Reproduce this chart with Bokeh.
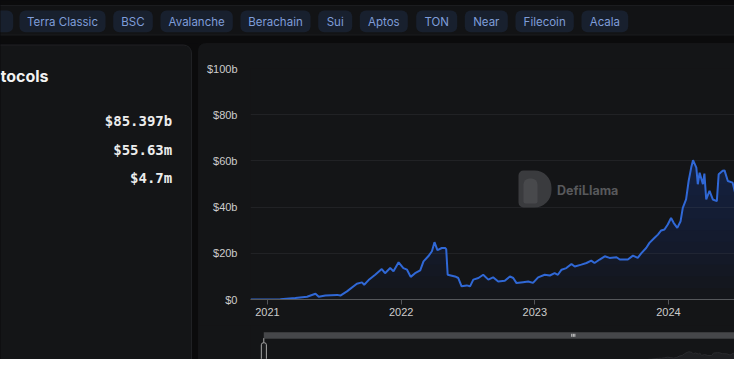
import numpy as np
import pandas as pd
from bokeh.plotting import figure
from bokeh.models import Range1d, FixedTicker
from bokeh.layouts import column, row
from bokeh.embed import file_html
from bokeh.resources import INLINE
from bokeh.core.properties import value

# ---------------- data ----------------
chain_tabs = ["Terra Classic", "BSC", "Avalanche", "Berachain", "Sui", "Aptos",
              "TON", "Near", "Filecoin", "Acala"]
panel_title = "tocols"
panel_values = ["$85.397b", "$55.63m", "$4.7m"]

dates = [
    "2020-11-16", "2020-12-27", "2021-02-05", "2021-03-18", "2021-04-19", "2021-05-12",
    "2021-05-21", "2021-06-08", "2021-07-10", "2021-07-19", "2021-08-06", "2021-09-02",
    "2021-09-16", "2021-09-22", "2021-10-04", "2021-10-22", "2021-11-09", "2021-11-18",
    "2021-12-02", "2021-12-11", "2021-12-25", "2022-01-07", "2022-01-17", "2022-01-27",
    "2022-02-08", "2022-02-22", "2022-03-03", "2022-03-16", "2022-03-26", "2022-04-02",
    "2022-04-10", "2022-04-22", "2022-05-01", "2022-05-04", "2022-05-08", "2022-05-28",
    "2022-06-06", "2022-06-15", "2022-06-29", "2022-07-08", "2022-07-17", "2022-07-31",
    "2022-08-13", "2022-08-27", "2022-09-09", "2022-09-23", "2022-10-11", "2022-10-25",
    "2022-11-03", "2022-11-12", "2022-11-30", "2022-12-14", "2022-12-27", "2023-01-10",
    "2023-01-28", "2023-02-11", "2023-02-24", "2023-03-05", "2023-03-15", "2023-03-28",
    "2023-04-11", "2023-04-20", "2023-05-08", "2023-05-22", "2023-06-04", "2023-06-13",
    "2023-06-27", "2023-07-11", "2023-07-24", "2023-08-12", "2023-08-21", "2023-09-12",
    "2023-09-26", "2023-10-09", "2023-10-19", "2023-11-01", "2023-11-10", "2023-11-24",
    "2023-12-03", "2023-12-12", "2023-12-21", "2023-12-30", "2024-01-08", "2024-01-15",
    "2024-01-25", "2024-02-03", "2024-02-09", "2024-02-18", "2024-02-25", "2024-03-03",
    "2024-03-08", "2024-03-17", "2024-03-21", "2024-03-26", "2024-04-04", "2024-04-08",
    "2024-04-13", "2024-04-22", "2024-05-01", "2024-05-12", "2024-05-17", "2024-05-28",
    "2024-06-02", "2024-06-11", "2024-06-24", "2024-07-03", "2024-07-12", "2024-07-21",
    "2024-07-26", "2024-08-02", "2024-08-09",
]
tvl_billions = [
    0.0, 0.05, 0.1, 0.6, 1.2, 2.5,
    1.2, 1.7, 2.0, 1.7, 3.5, 6.8,
    7.4, 6.4, 8.4, 10.7, 13.2, 11.4,
    13.6, 12.2, 16.1, 13.6, 12.9, 9.8,
    11.4, 12.6, 16.5, 18.7, 20.9, 24.8,
    21.4, 22.3, 22.3, 21.8, 10.7, 10.0,
    9.3, 5.7, 6.1, 5.7, 8.6, 9.3,
    10.7, 8.6, 9.6, 7.8, 8.1, 10.0,
    9.3, 7.1, 7.5, 7.8, 7.2, 9.6,
    10.7, 10.4, 11.4, 10.7, 12.9, 13.6,
    15.4, 14.3, 15.1, 15.8, 16.8, 15.8,
    17.3, 18.7, 18.0, 18.3, 17.3, 17.3,
    19.0, 18.0, 20.1, 22.3, 24.5, 26.7,
    28.1, 29.9, 30.3, 32.5, 35.3, 33.2,
    31.0, 33.9, 39.7, 43.3, 51.3, 57.1,
    60.3, 57.1, 49.9, 54.9, 49.9, 54.5,
    43.3, 47.0, 43.3, 42.6, 54.2, 55.7,
    55.9, 51.3, 50.6, 44.8, 53.0, 53.5,
    49.9, 37.5, 40.4,
]
y_ticks = [0, 20, 40, 60, 80, 100]
y_tick_labels = ["$0", "$20b", "$40b", "$60b", "$80b", "$100b"]
x_tick_labels = ["2021", "2022", "2023", "2024"]
watermark_text = "DefiLlama"

# ---------------- styles / layout (pixel coordinates of the picture) ----------------
PAGE_BG = "#0b0b0c"
BAND_BG = "#121315"
BAND_LINE = "#1b1c1f"
CARD_BG = "#141517"
CARD_LINE = "#202124"
TAB_BG = "#18202e"
TAB_TEXT = "#7f9dd9"
LINE = "#3068d6"
AXIS_TEXT = "#cccccc"
GRID = "#212225"

W, H = 734, 359
TOP_H = 43
LEFT_W = 198
CHART_H = 282

tab_left = [19, 112.7, 160, 240, 317.7, 359.3, 415.7, 464.3, 515, 581]
tab_right = [105, 152.3, 232.3, 310, 351.7, 407.3, 456.7, 507.3, 573.3, 627.7]

DAYS_PER_PX = 1095 / 401.0          # 2021-01-01 at x=267, 2024-01-01 at x=668
X_ORIGIN_PX = 267.0
FRAME_L, FRAME_T, FRAME_B = 250, 68, 299
SLIDER_PX_PER_DAY = 0.3897
SLIDER_X0 = 212.7


def deco_fig(w, h, x0, x1, y0, y1, bg):
    return figure(width=w, height=h, x_range=Range1d(x0, x1), y_range=Range1d(y1, y0),
                  x_axis_type=None, y_axis_type=None, tools="", toolbar_location=None,
                  output_backend="svg", min_border=0, outline_line_color=None,
                  background_fill_color=bg, border_fill_color=bg)


def when(ts):
    return ts.round("s").to_pydatetime()


# ---------------- top tab bar ----------------
top = deco_fig(W, TOP_H, 0, W, 0, TOP_H, PAGE_BG)
top.quad(left=[-10], right=[W + 10], top=[5], bottom=[34.5], fill_color=BAND_BG,
         line_color=BAND_LINE, line_width=1)
top.quad(left=[-30] + tab_left, right=[12.7] + tab_right, top=10, bottom=31.7,
         border_radius=6, fill_color=TAB_BG, line_color=None)
tab_center = [(a + b) / 2 for a, b in zip(tab_left, tab_right)]
top.text(x=tab_center, y=21, text=chain_tabs, text_align="center", text_baseline="middle",
         text_font=value("Inter"), text_font_size="11.5px", text_color=TAB_TEXT)

# ---------------- left panel ----------------
left = deco_fig(LEFT_W, H - TOP_H, 0, LEFT_W, TOP_H, H, PAGE_BG)
left.quad(left=[-30], right=[191], top=[44.5], bottom=[420], border_radius=8,
          fill_color=CARD_BG, line_color=CARD_LINE, line_width=1)
left.text(x=[0], y=[75.5], text=[panel_title], text_align="left", text_baseline="middle",
          text_font=value("Inter"), text_font_style="bold", text_font_size="16px",
          text_color="#f2f2f2")
left.text(x=171.7, y=[120.7, 149.3, 177.7], text=panel_values, text_align="right",
          text_baseline="middle", text_font=value("DejaVu Sans Mono"),
          text_font_style="bold", text_font_size="14px", text_color="#ececec")

# ---------------- main chart ----------------
dts = pd.to_datetime(dates)
vals = np.array(tvl_billions)
base = pd.Timestamp("2021-01-01")
x_start = base + pd.Timedelta(days=(FRAME_L - X_ORIGIN_PX) * DAYS_PER_PX)
x_end = base + pd.Timedelta(days=(W - X_ORIGIN_PX) * DAYS_PER_PX)

p = figure(width=W - LEFT_W, height=CHART_H, x_axis_type="datetime",
           x_range=Range1d(when(x_start), when(x_end)),
           y_range=Range1d(0, 100), tools="", toolbar_location=None, output_backend="svg",
           min_border_left=FRAME_L - LEFT_W, min_border_right=0,
           min_border_top=FRAME_T - TOP_H, min_border_bottom=TOP_H + CHART_H - FRAME_B,
           outline_line_color=None, background_fill_color=CARD_BG, border_fill_color=CARD_BG)

# watermark (picture coordinates inside the frame)
p.extra_x_ranges = {"px": Range1d(FRAME_L, W)}
p.extra_y_ranges = {"px": Range1d(FRAME_B, FRAME_T)}
p.quad(left=[518], right=[551], top=[170], bottom=[207], border_radius=(5, 17, 17, 5),
       fill_color="#3a3b3e", line_color=None, x_range_name="px", y_range_name="px")
p.quad(left=[523], right=[537], top=[178], bottom=[203], border_radius=(6, 6, 2, 2),
       fill_color="#48494c", line_color=None, x_range_name="px", y_range_name="px")
p.text(x=[556.5], y=[189.5], text=[watermark_text], text_align="left",
       text_baseline="middle", text_font=value("Inter"), text_font_style="bold",
       text_font_size="12.5px", text_color="#58595c", x_range_name="px", y_range_name="px")

# gradient-like area fill
n = len(vals)
for lv in np.arange(0, 60, 5):
    p.varea(x=dts, y1=np.full(n, float(lv)), y2=np.maximum(vals, lv),
            fill_color=LINE, fill_alpha=0.022)
p.line(x=dts, y=vals, line_color=LINE, line_width=2)

p.yaxis.ticker = FixedTicker(ticks=y_ticks)
p.yaxis.major_label_overrides = dict(zip(y_ticks, y_tick_labels))
p.yaxis.axis_line_color = None
p.yaxis.major_tick_line_color = None
p.yaxis.minor_tick_line_color = None
p.yaxis.major_label_standoff = 7
p.yaxis.major_label_text_color = AXIS_TEXT
p.yaxis.major_label_text_font = "Liberation Sans"
p.yaxis.major_label_text_font_size = "11px"

x_ticks = [int(pd.Timestamp(f"{y}-01-01").timestamp() * 1000) for y in x_tick_labels]
p.xaxis.ticker = FixedTicker(ticks=x_ticks)
p.xaxis.major_label_overrides = dict(zip(x_ticks, x_tick_labels))
p.xaxis.axis_line_color = "#55575b"
p.xaxis.major_tick_line_color = "#55575b"
p.xaxis.major_tick_out = 5
p.xaxis.major_tick_in = 0
p.xaxis.minor_tick_line_color = None
p.xaxis.major_label_standoff = 3
p.xaxis.major_label_text_color = AXIS_TEXT
p.xaxis.major_label_text_font = "Liberation Sans"
p.xaxis.major_label_text_font_size = "11px"

p.xgrid.grid_line_color = None
p.ygrid.grid_line_color = GRID

# ---------------- data-zoom slider ----------------
SL_T = TOP_H + CHART_H
s = deco_fig(W - LEFT_W, H - SL_T, LEFT_W, W, SL_T, H, CARD_BG)
d0 = dts[0]
s_start = d0 + pd.Timedelta(days=(LEFT_W - SLIDER_X0) / SLIDER_PX_PER_DAY)
s_end = d0 + pd.Timedelta(days=(W - SLIDER_X0) / SLIDER_PX_PER_DAY)
SH_BOTTOM, SH_PX_PER_B = 364.3, 13.0 / 60.0
s.extra_x_ranges = {"date": Range1d(when(s_start), when(s_end))}
s.extra_y_ranges = {"val": Range1d(-(H - SH_BOTTOM) / SH_PX_PER_B,
                                   (SH_BOTTOM - SL_T) / SH_PX_PER_B)}

s.quad(left=[SLIDER_X0], right=[W + 10], top=[331.7], bottom=[337.7], fill_color="#46474a",
       line_color=None)
s.segment(x0=[553.8, 555.5, 557.2], x1=[553.8, 555.5, 557.2], y0=333.3, y1=336.3,
          line_color="#d0d0d0", line_width=1)
s.quad(left=[SLIDER_X0], right=[W + 10], top=[337.7], bottom=[364.3], fill_color=CARD_BG,
       line_color="#46474a", line_width=1)
s.varea(x=dts, y1=np.zeros(n), y2=vals, fill_color="#1e1f22", x_range_name="date",
        y_range_name="val")
s.line(x=dts, y=vals, line_color="#2a2b2e", line_width=1, x_range_name="date",
       y_range_name="val")
s.segment(x0=[SLIDER_X0], x1=[SLIDER_X0], y0=[337.7], y1=[364.3], line_color="#9a9a9a",
          line_width=1)
s.quad(left=[210], right=[215.6], top=[342.3], bottom=[360], border_radius=2,
       fill_color="#1a1b1d", line_color="#a5a5a5", line_width=1)

right_col = column(p, s, styles={"background-color": CARD_BG,
                                 "border-top-left-radius": "8px", "overflow": "hidden"})
body = row(left, right_col, styles={"background-color": PAGE_BG})
layout = column(top, body, styles={"background-color": PAGE_BG})

open("out.html", "w").write(file_html(layout, INLINE))
